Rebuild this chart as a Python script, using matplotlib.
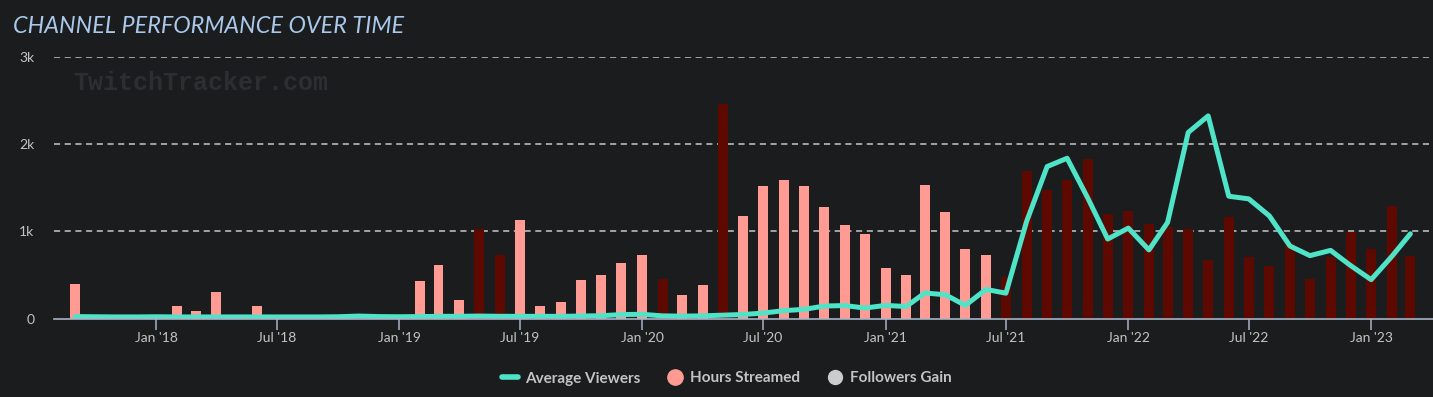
import matplotlib
matplotlib.use("Agg")
import matplotlib.pyplot as plt
import matplotlib.dates as mdates
from matplotlib.lines import Line2D
import numpy as np
import pandas as pd

# ---------------- data ----------------
months = pd.date_range("2017-09-01", "2023-03-01", freq="MS")

hours_streamed = [
    400, 0, 0, 0,                                   # 2017 Sep-Dec
    35, 142, 85, 300, 0, 142, 30, 0, 0, 0, 0, 0,    # 2018
    0, 430, 615, 210, 1030, 730, 1130, 140, 187, 443, 500, 634,   # 2019
    730, 454, 270, 385, 2460, 1175, 1515, 1590, 1515, 1275, 1073, 970,  # 2020
    573, 500, 1530, 1218, 800, 730, 470, 1690, 1470, 1590, 1830, 1200,  # 2021
    1230, 1080, 1050, 1030, 670, 1160, 700, 600, 870, 450, 700, 985,   # 2022
    800, 1290, 715,                                  # 2023
]

average_viewers = [
    22, 20, 18, 18,
    20, 18, 18, 18, 18, 18, 18, 18, 18, 20, 28, 22,
    20, 22, 25, 25, 28, 25, 25, 25, 25, 28, 32, 45,
    48, 30, 27, 30, 38, 46, 62, 90, 105, 143, 148, 120,
    150, 137, 292, 272, 150, 333, 290, 1110, 1740, 1835, 1380, 910,
    1035, 785, 1100, 2130, 2320, 1400, 1370, 1175, 830, 720, 780, 607,
    445, 710, 970,
]

# months whose bar is drawn in the dark shade
dark_months = ["2019-05", "2019-06", "2020-02", "2020-05"] + \
    [m.strftime("%Y-%m") for m in pd.date_range("2021-07-01", "2023-03-01", freq="MS")]

y_ticks = [0, 1000, 2000, 3000]
y_tick_labels = ["0", "1k", "2k", "3k"]
x_ticks = pd.date_range("2018-01-01", "2023-01-01", freq="6MS")
x_tick_labels = [d.strftime("%b '%y") for d in x_ticks]

legend_labels = ["Average Viewers", "Hours Streamed", "Followers Gain"]

# ---------------- style ----------------
BG = "#1b1c1e"
PINK = "#ff9b93"
DARK = "#5e0900"
TEAL = "#4fe3c7"
GRID = "#c8c8c8"
AXIS = "#a6b3c6"
TXT = "#c4c4c4"

W, H = 1433, 397
fig = plt.figure(figsize=(W / 100, H / 100), dpi=100, facecolor=BG)
L, R, T, B = 54, 1433, 56.5, 318.5
ax = fig.add_axes([L / W, 1 - B / H, (R - L) / W, (B - T) / H])
ax.set_facecolor(BG)

colors = [DARK if m.strftime("%Y-%m") in dark_months else PINK for m in months]
ax.bar(months, hours_streamed, width=15, color=colors, zorder=2, linewidth=0)
ax.plot(months, average_viewers, color=TEAL, lw=3.6, zorder=3,
        solid_joinstyle="round", solid_capstyle="round")

ax.set_ylim(0, 3000)
ax.set_xlim(pd.Timestamp("2017-07-31"), pd.Timestamp("2023-04-04"))
ax.set_yticks(y_ticks)
ax.set_yticklabels(y_tick_labels)
ax.set_xticks(x_ticks)
ax.set_xticklabels(x_tick_labels)

for y in y_ticks[1:]:
    ax.axhline(y, color=GRID, lw=1.1, ls=(0, (4, 3)), zorder=1)

for s in ["top", "right", "left"]:
    ax.spines[s].set_visible(False)
ax.spines["bottom"].set_color(AXIS)
ax.spines["bottom"].set_linewidth(1.2)
ax.spines["bottom"].set_zorder(4)

ax.tick_params(axis="y", length=0, pad=14, labelsize=10, labelcolor=TXT)
ax.tick_params(axis="x", length=8, width=1.1, color=AXIS, pad=1.5,
               labelsize=10, labelcolor=TXT)
for lab in ax.get_xticklabels() + ax.get_yticklabels():
    lab.set_fontfamily(["Lato", "DejaVu Sans"])

# title
fig.text(13 / W, 1 - 33 / H, "CHANNEL PERFORMANCE OVER TIME", fontsize=16.85,
         family=["Lato", "DejaVu Sans"], style="italic", color="#a9c8ea",
         ha="left", va="baseline")

# watermark
fig.text(73 / W, 1 - 90 / H, "TwitchTracker.com", fontsize=18.0,
         family=["Liberation Mono", "DejaVu Sans Mono"], weight="bold",
         color="#2d2e31", ha="left", va="baseline")

# legend
handles = [
    Line2D([0], [0], color=TEAL, lw=4, solid_capstyle="round"),
    Line2D([0], [0], marker="o", color=PINK, lw=0, markersize=11),
    Line2D([0], [0], marker="o", color="#cccccc", lw=0, markersize=10),
]
leg = fig.legend(handles, legend_labels, loc="center",
                 bbox_to_anchor=(727 / W, 1 - 378.5 / H), ncol=3, frameon=False,
                 handlelength=1.0, handletextpad=0.5, columnspacing=1.75,
                 prop={"family": ["Lato", "DejaVu Sans"], "weight": "bold", "size": 11})
for t in leg.get_texts():
    t.set_color(TXT)

fig.savefig("out.png", dpi=100, facecolor=BG)
